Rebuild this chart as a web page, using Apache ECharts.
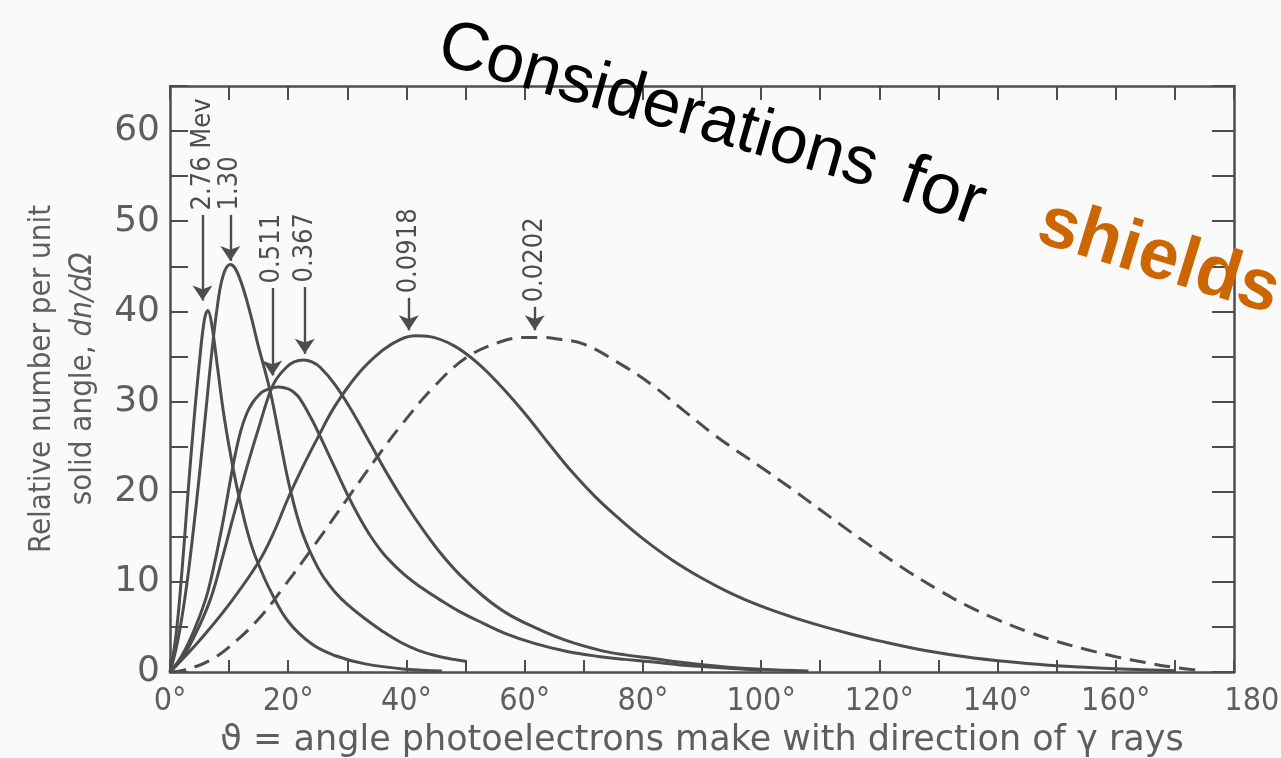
<!DOCTYPE html>
<html>
<head>
<meta charset="utf-8">
<title>Photoelectron angular distribution</title>
<script src="https://cdn.jsdelivr.net/npm/echarts@6/dist/echarts.min.js"></script>
<style>
html, body { margin: 0; padding: 0; background: #fafafa; }
#chart { width: 1281px; height: 758px; }
</style>
</head>
<body>
<div id="chart"></div>
<script>
// curves: angle in degrees, relative number per unit solid angle
var ang276 = [0, 1, 2, 3, 4, 5, 5.8, 6.4, 7, 8, 9, 10, 11, 12, 13, 14, 15, 17, 20, 24, 28, 33, 40, 46];
var val276 = [0, 4, 11, 19.5, 27.5, 34.5, 39, 40.1, 38.8, 34, 29, 25, 21.5, 18.5, 15.8, 13.6, 11.9, 9.0, 5.6, 3.1, 1.8, 0.9, 0.3, 0.1];

var ang130 = [0, 1, 2, 3, 4, 5, 6, 7, 8, 9, 10.2, 11, 12, 13, 14, 15, 16, 17, 18, 19, 20, 21, 22, 23, 24, 25, 26, 28, 30, 33, 36, 39, 42, 45, 48, 50];
var val130 = [0, 2.5, 6, 10.5, 16, 22, 28.5, 35, 40.5, 44, 45.2, 44.8, 43.3, 41.2, 38.7, 36, 33.6, 31, 27.8, 24.4, 21.2, 18.5, 16.2, 14.4, 12.9, 11.6, 10.5, 8.8, 7.5, 5.9, 4.5, 3.3, 2.4, 1.8, 1.4, 1.2];

var ang511 = [0, 2, 4, 6, 7, 8, 9, 10, 11, 12, 13, 14, 15, 16, 18.3, 20, 21, 22, 24, 26, 28, 30, 32, 34, 36, 38, 40, 42, 45.7, 49, 53, 57, 61.5, 67, 72.8, 77, 81.8, 86, 90, 95, 100];
var val511 = [0, 1.8, 4.5, 8, 10.5, 13.5, 16.8, 20.5, 24, 26.8, 28.7, 29.9, 30.7, 31.2, 31.6, 31.4, 31, 30.3, 28, 25.3, 22.5, 19.7, 17.2, 15.0, 13.2, 11.8, 10.6, 9.6, 8.0, 6.7, 5.4, 4.2, 3.2, 2.3, 1.7, 1.4, 1.1, 0.8, 0.6, 0.4, 0.2];

var ang367 = [0, 2, 4, 6.8, 9, 10.7, 13, 15.2, 16.9, 18, 19.7, 21, 22.6, 24, 25.4, 28, 31, 34, 37, 40, 43, 46, 49, 53, 57, 61.5, 67, 72.8, 77, 81.8, 86, 90, 95, 100, 108];
var val367 = [0, 1.5, 3.8, 8, 13, 17.2, 22.7, 27.5, 31, 32.5, 33.8, 34.4, 34.6, 34.4, 33.8, 31.8, 28.7, 25.2, 21.7, 18.5, 15.6, 13.0, 10.8, 8.4, 6.5, 5.0, 3.5, 2.4, 1.9, 1.5, 1.1, 0.8, 0.5, 0.3, 0.1];

var ang0918 = [0, 5, 10, 15, 17.5, 20, 22.5, 25, 28, 32, 36, 39, 41.5, 44, 48, 52, 56, 60, 64, 68, 72, 76, 80, 85, 90, 95, 100, 105, 110, 115, 120, 128, 136, 145, 154, 162, 170];
var val0918 = [0, 3.5, 7.5, 12.2, 15.4, 19.3, 22.8, 26, 29.6, 33.2, 35.7, 36.9, 37.3, 37.2, 36.2, 34.3, 31.7, 28.7, 25.4, 22.2, 19.4, 17.0, 14.8, 12.4, 10.4, 8.7, 7.3, 6.15, 5.15, 4.25, 3.45, 2.35, 1.55, 0.95, 0.55, 0.3, 0.15];

var ang0202 = [0, 2.3, 6.8, 11.3, 15.8, 19.2, 22.6, 26, 30.2, 35, 38.9, 44.6, 50.2, 55.8, 60, 63.1, 66, 69.9, 75.6, 81.2, 86.9, 92.5, 100, 105, 110, 115, 120, 125, 130, 135, 140, 145, 150, 155, 160, 165, 170, 174];
var val0202 = [0, 0.2, 1.3, 3.5, 6.5, 9.4, 12.4, 15.5, 19.4, 23.8, 27.2, 31.6, 34.9, 36.6, 37.1, 37.1, 36.9, 36.4, 34.4, 32, 29, 26.1, 22.7, 20.4, 18.0, 15.6, 13.3, 11.1, 9.1, 7.3, 5.8, 4.5, 3.4, 2.5, 1.7, 1.05, 0.5, 0.2];

// gamma energies (Mev) and where their arrow labels sit: [angle, label bottom, arrow tip]
var energies = ['2.76 Mev', '1.30', '0.511', '0.367', '0.0918', '0.0202'];
var labelAng = [5.5, 10.2, 17.3, 22.8, 40.4, 61.7];
var labelBottom = [51.2, 51.2, 43.1, 43.2, 42.0, 41.0];
var arrowTip = [41.2, 45.6, 32.9, 35.3, 37.9, 37.9];

var xTicks = [0, 20, 40, 60, 80, 100, 120, 140, 160, 180];
var yTicks = [0, 10, 20, 30, 40, 50, 60];

var ink = '#4d4d4d';
var cond = '"DejaVu Sans Condensed", "Liberation Sans", sans-serif';

function pairs(a, v) {
	var out = [];
	for (var i = 0; i < a.length; i++) out.push([a[i], v[i]]);
	return out;
}

function curve(i, a, v, dashed) {
	return {
		type: 'line',
		data: pairs(a, v),
		smooth: 0.4,
		symbol: 'none',
		silent: true,
		lineStyle: { color: ink, width: 3, type: dashed ? [16, 9] : 'solid' },
		markLine: {
			silent: true,
			symbol: ['none', 'arrow'],
			symbolSize: 15,
			label: { show: false },
			lineStyle: { color: ink, width: 2.4, type: 'solid' },
			data: [[{ coord: [labelAng[i], labelBottom[i] - 0.5] }, { coord: [labelAng[i], arrowTip[i]] }]]
		},
		markPoint: {
			silent: true,
			symbol: 'circle',
			symbolSize: 0,
			data: [{ name: energies[i], coord: [labelAng[i], labelBottom[i]] }],
			label: {
				show: true,
				formatter: '{b}',
				position: 'inside',
				rotate: 90,
				align: 'left',
				verticalAlign: 'middle',
				color: ink,
				fontFamily: cond,
				fontSize: 27
			}
		}
	};
}

var chart = echarts.init(document.getElementById('chart'));

var option = {
	backgroundColor: '#fafafa',
	animation: false,
	grid: { left: 170, right: 47, top: 86, bottom: 86, containLabel: false, outerBoundsMode: 'none' },
	xAxis: [{
		type: 'value', min: 0, max: 180, interval: 10,
		axisLine: { onZero: false, lineStyle: { color: ink, width: 2.5 } },
		axisTick: { inside: true, length: 12, lineStyle: { color: ink, width: 2 } },
		splitLine: { show: false },
		axisLabel: {
			margin: 14, color: '#5e5e5e', fontFamily: cond, fontSize: 32,
			formatter: function (v) {
				if (xTicks.indexOf(v) < 0) return '';
				return v === 180 ? '{r|180°}' : v + '°';
			},
			rich: { r: { fontFamily: cond, fontSize: 32, color: '#5e5e5e', padding: [0, 0, 0, 50] } }
		},
		name: 'ϑ = angle photoelectrons make with direction of γ rays',
		nameLocation: 'middle', nameGap: 51,
		nameTextStyle: { color: '#5e5e5e', fontFamily: '"DejaVu Sans", sans-serif', fontSize: 35 }
	}, {
		type: 'value', position: 'top', min: 0, max: 180, interval: 10,
		axisLine: { show: true, onZero: false, lineStyle: { color: ink, width: 2.5 } },
		axisTick: { inside: true, length: 14, lineStyle: { color: ink, width: 2 } },
		axisLabel: { show: false }, splitLine: { show: false }
	}],
	yAxis: [{
		type: 'value', min: 0, max: 65, interval: 5,
		axisLine: { show: true, onZero: false, lineStyle: { color: ink, width: 2.5 } },
		axisTick: { inside: true, length: 18, lineStyle: { color: ink, width: 2 } },
		splitLine: { show: false },
		axisLabel: {
			margin: 10, color: '#5e5e5e', fontFamily: '"DejaVu Sans", sans-serif', fontSize: 36,
			formatter: function (v) { return yTicks.indexOf(v) < 0 ? '' : String(v); }
		},
		name: 'Relative number per unit\nsolid angle, {i|dn/dΩ}',
		nameLocation: 'middle', nameRotate: 90, nameGap: 65,
		nameTextStyle: {
			color: '#5e5e5e', fontFamily: cond, fontSize: 31, lineHeight: 41, align: 'center',
			rich: { i: { fontStyle: 'italic', fontFamily: cond, fontSize: 31, color: '#5e5e5e', lineHeight: 41 } }
		}
	}, {
		type: 'value', position: 'right', min: 0, max: 65, interval: 5,
		axisLine: { show: true, onZero: false, lineStyle: { color: ink, width: 2.5 } },
		axisTick: { inside: true, length: 22, lineStyle: { color: ink, width: 2 } },
		axisLabel: { show: false }, splitLine: { show: false }
	}],
	series: [
		curve(0, ang276, val276, false),
		curve(1, ang130, val130, false),
		curve(2, ang511, val511, false),
		curve(3, ang367, val367, false),
		curve(4, ang0918, val0918, false),
		curve(5, ang0202, val0202, true)
	],
	graphic: [
		{ type: 'text', x: 440, y: 44, rotation: -16 * Math.PI / 180, z: 100,
			style: { text: 'Considerations', font: '68px "Liberation Sans", Arial, sans-serif', fill: '#000', align: 'left', verticalAlign: 'middle' } },
		{ type: 'text', x: 903, y: 180, rotation: -19 * Math.PI / 180, z: 100,
			style: { text: 'for', font: '72px "Liberation Sans", Arial, sans-serif', fill: '#000', align: 'left', verticalAlign: 'middle' } },
		{ type: 'text', x: 1040, y: 222, rotation: -17 * Math.PI / 180, z: 100,
			style: { text: 'shields', font: 'bold 72px "Liberation Sans", Arial, sans-serif', fill: '#cc6600', align: 'left', verticalAlign: 'middle' } }
	]
};

chart.setOption(option);
</script>
</body>
</html>
